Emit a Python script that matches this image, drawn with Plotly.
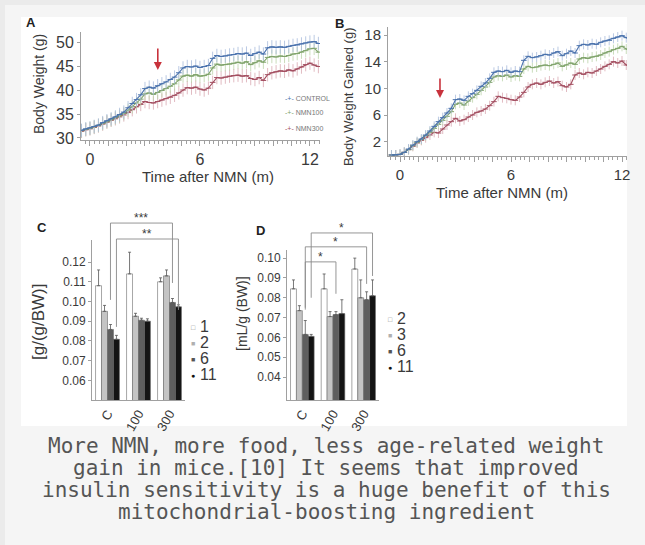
import plotly.graph_objects as go

W, H = 645, 545

# ---------------- data ----------------
weeks = list(range(-2, 55))
months = [w * 12 / 52 for w in weeks]

bw_control = [31.6, 31.9, 32.1, 32.4, 32.7, 33.2, 33.6, 34.0, 34.4, 34.9, 35.4, 36.3, 37.2, 38.0, 39.0,
              40.3, 40.6, 40.4, 40.9, 41.3, 41.7, 42.2, 42.7, 43.6, 44.6, 44.9, 44.8, 45.0, 44.7, 44.9,
              45.1, 46.6, 47.2, 47.0, 47.1, 47.3, 47.4, 47.6, 47.5, 47.7, 47.2, 47.6, 47.9, 47.5, 48.8,
              49.0, 48.9, 49.0, 48.9, 49.1, 49.3, 49.4, 49.6, 49.8, 50.0, 50.1, 49.7]
bw_nmn100 = [31.5, 31.8, 32.0, 32.3, 32.6, 33.0, 33.4, 33.8, 34.2, 34.6, 35.1, 35.8, 36.5, 37.3, 38.1,
             39.2, 39.4, 39.1, 39.5, 39.9, 40.3, 40.8, 41.3, 42.1, 42.9, 43.1, 42.9, 43.2, 42.9, 43.0,
             43.3, 44.6, 45.4, 45.2, 45.3, 45.4, 45.6, 45.8, 45.6, 45.9, 45.3, 45.7, 46.1, 45.8, 46.8,
             47.0, 46.9, 47.1, 47.0, 47.2, 47.5, 47.6, 47.9, 48.2, 48.6, 48.7, 47.9]
bw_nmn300 = [31.4, 31.7, 31.9, 32.2, 32.5, 32.9, 33.3, 33.7, 34.0, 34.4, 34.8, 35.3, 35.9, 36.5, 37.0,
             37.6, 37.4, 37.3, 37.6, 37.9, 38.2, 38.5, 38.9, 39.4, 40.0, 40.5, 40.4, 40.6, 40.2, 40.0,
             40.4, 41.6, 42.6, 42.5, 42.7, 42.9, 43.0, 43.1, 42.9, 43.0, 42.4, 42.2, 42.6, 42.0, 43.2,
             43.6, 43.8, 44.0, 43.9, 44.2, 44.0, 44.4, 44.8, 45.3, 45.6, 45.2, 44.9]

gain_control = [0.0, 0.0, 0.1, 0.4, 0.9, 1.5, 2.0, 2.4, 3.0, 3.6, 4.3, 5.0, 5.6, 6.3, 7.0,
                8.3, 8.4, 8.2, 8.8, 9.2, 9.7, 10.3, 10.8, 11.5, 12.4, 12.6, 12.5, 12.7, 12.4, 12.6,
                12.5, 14.2, 14.8, 14.6, 14.7, 14.9, 15.1, 15.0, 15.3, 15.5, 14.9, 15.2, 15.6, 15.3, 16.4,
                16.6, 16.5, 16.7, 16.6, 16.9, 17.1, 17.2, 17.5, 17.7, 17.9, 17.6, 17.2]
gain_nmn100 = [0.0, 0.0, 0.1, 0.4, 0.8, 1.4, 1.9, 2.3, 2.9, 3.4, 4.0, 4.6, 5.2, 5.8, 6.5,
               7.6, 7.8, 7.5, 8.1, 8.6, 9.1, 9.7, 10.2, 10.9, 11.7, 11.9, 11.8, 12.0, 11.7, 11.9,
               11.8, 12.9, 13.3, 13.1, 13.2, 13.4, 13.5, 13.4, 13.6, 13.8, 13.3, 13.5, 13.8, 13.6, 14.4,
               14.6, 14.5, 14.7, 14.8, 15.0, 15.3, 15.5, 15.8, 16.0, 16.3, 15.9, 15.5]
gain_nmn300 = [0.0, 0.0, 0.1, 0.4, 0.8, 1.3, 1.8, 2.2, 2.6, 3.0, 3.4, 3.3, 3.9, 4.5, 5.0,
               5.5, 5.1, 5.3, 5.7, 6.0, 6.4, 6.6, 6.9, 7.4, 8.0, 8.8, 8.6, 8.5, 8.3, 8.2,
               8.7, 9.4, 10.2, 10.6, 10.8, 10.6, 10.9, 11.1, 10.8, 11.0, 10.4, 10.2, 10.6, 12.0, 12.3,
               12.1, 12.4, 12.3, 12.6, 12.9, 13.3, 13.6, 14.0, 13.8, 14.1, 13.5, 13.2]

series_names = ["CONTROL", "NMN100", "NMN300"]

groups = ["C", "100", "300"]

# panel C per age group (months)
c_labels = ["1", "2", "6", "11"]
c_vals = [[0.108, 0.114, 0.110], [0.095, 0.0925, 0.113], [0.0858, 0.0905, 0.0995], [0.0808, 0.090, 0.0973]]
c_errs = [[0.008, 0.011, 0.002], [0.003, 0.0015, 0.003], [0.0025, 0.001, 0.002], [0.002, 0.0012, 0.001]]

# panel D per age group (months)
d_labels = ["2", "3", "6", "11"]
d_vals = [[0.0845, 0.0845, 0.0945], [0.0735, 0.0705, 0.080], [0.0615, 0.0715, 0.079], [0.0605, 0.072, 0.081]]
d_errs = [[0.0045, 0.0075, 0.0055], [0.0025, 0.0025, 0.009], [0.007, 0.0015, 0.004], [0.001, 0.007, 0.008]]

# significance brackets: (label, series index, group a, group b, line level, left foot, right foot)
c_brackets = [("***", 2, 0, 2, 0.1398, 0.1008, 0.1094), ("**", 3, 0, 2, 0.1317, 0.0871, 0.0957)]
d_brackets = [("*", 3, 0, 2, 0.1127, 0.080, 0.091), ("*", 2, 0, 2, 0.1057, 0.075, 0.087),
              ("*", 2, 0, 1, 0.0981, 0.074, 0.082)]

caption = ["More NMN, more food, less age-related weight",
           "gain in mice.[10] It seems that improved",
           "insulin sensitivity is a huge benefit of this",
           "mitochondrial-boosting ingredient"]

# ---------------- styling ----------------
line_cols = ["#4a72ad", "#7fa36a", "#a34e60"]
err_cols = ["#a8bbdc", "#bcd4ab", "#d9a9b3"]
bar_cols = ["#ffffff", "#c4c4c4", "#5e5e5e", "#141414"]
axis_col = "#a0a0a0"
txt_col = "#3a3a3a"
SANS = "Liberation Sans, Arial"

# pixel layout (domain in px)
A_x, A_y, A_xr, A_yr = (81, 320), (32, 140), (-0.49, 12.55), (29.58, 52.1)
B_x, B_y, B_xr, B_yr = (388, 627), (27, 156), (-0.65, 12.27), (-0.15, 19.2)
C_x, C_y, C_xr, C_yr = (92, 185), (240, 400), (-0.5, 2.5), (0.05, 0.1312)
D_x, D_y, D_xr, D_yr = (287, 379), (250, 400), (-0.5, 2.5), (0.0284, 0.1041)


def dom_x(p):
    return [p[0] / W, p[1] / W]


def dom_y(p):
    return [1 - p[1] / H, 1 - p[0] / H]


def lin(v, dom, rng):
    return dom[0] + (v - rng[0]) / (rng[1] - rng[0]) * (dom[1] - dom[0])


def txt(x, y, text, size, family=SANS, color=txt_col, angle=0, xanchor="center", yanchor="middle"):
    return dict(xref="paper", yref="paper", x=x / W, y=1 - y / H, text=text, showarrow=False,
                xanchor=xanchor, yanchor=yanchor, textangle=angle,
                font=dict(family=family, size=size, color=color))


fig = go.Figure()

# ---- panels A and B ----
for vals_a, vals_b, name, lc, ec in zip(
        [bw_nmn300, bw_nmn100, bw_control], [gain_nmn300, gain_nmn100, gain_control],
        series_names[::-1], line_cols[::-1], err_cols[::-1]):
    for vals, xa, ya, ev in ((vals_a, "x", "y", 1.4), (vals_b, "x2", "y2", 0.75)):
        fig.add_trace(go.Scatter(
            x=months, y=vals, xaxis=xa, yaxis=ya, name=name, mode="lines+markers",
            line=dict(color=lc, width=1.1),
            marker=dict(symbol="line-ew", size=4, line=dict(color=lc, width=1)),
            error_y=dict(type="constant", value=ev, color=ec, thickness=0.8, width=0),
            showlegend=False, cliponaxis=True, hoverinfo="skip"))

# ---- panels C and D ----
for vals_set, errs_set, xa, ya in ((c_vals, c_errs, "x3", "y3"), (d_vals, d_errs, "x4", "y4")):
    for k in range(4):
        fig.add_trace(go.Bar(
            x=groups, y=vals_set[k], xaxis=xa, yaxis=ya, showlegend=False, hoverinfo="skip",
            marker=dict(color=bar_cols[k], line=dict(color="#6a6a6a", width=0.6)),
            error_y=dict(type="data", array=errs_set[k], arrayminus=[0, 0, 0], symmetric=False,
                         color="#555555", thickness=0.8, width=1.5)))

bargap = 0.23
gw = 1 - bargap


def bar_center(g, k):
    return g - gw / 2 + (k + 0.5) * gw / 4


shapes = [
    dict(type="rect", xref="paper", yref="paper", x0=5 / W, x1=1, y0=0, y1=1 - 5 / H,
         fillcolor="#f5f5f5", line=dict(width=0), layer="below"),
    dict(type="rect", xref="paper", yref="paper", x0=21 / W, x1=627 / W,
         y0=1 - 426 / H, y1=1 - 17 / H, fillcolor="white", line=dict(width=0), layer="below"),
]
annotations = []

for brackets, px, py, xr, yr in ((c_brackets, C_x, C_y, C_xr, C_yr), (d_brackets, D_x, D_y, D_xr, D_yr)):
    dx = dom_x(px)
    dy = dom_y(py)
    for lab, k, ga, gb, lvl, lf, rf in brackets:
        xa = lin(bar_center(ga, k), dx, xr)
        xb = lin(bar_center(gb, k), dx, xr)
        yl = lin(lvl, dy, yr)
        ylf = lin(lf, dy, yr)
        yrf = lin(rf, dy, yr)
        path = f"M {xa} {ylf} L {xa} {yl} L {xb} {yl} L {xb} {yrf}"
        shapes.append(dict(type="path", xref="paper", yref="paper", path=path,
                           line=dict(color="#8a8a8a", width=0.9)))
        annotations.append(dict(xref="paper", yref="paper", x=(xa + xb) / 2, y=yl, text=lab,
                                showarrow=False, yanchor="bottom", xanchor="center", yshift=-4,
                                font=dict(family=SANS, size=12, color=txt_col)))

# panel letters
for lab, x, y in (("A", 31, 22), ("B", 339, 23), ("C", 42, 227), ("D", 260, 230)):
    annotations.append(txt(x, y, f"<b>{lab}</b>", 13, color="#222"))

# axis titles
annotations += [
    txt(39, 84, "Body Weight (g)", 14, angle=-90),
    txt(208, 177, "Time after NMN (m)", 15),
    txt(349, 97, "Body Weight Gained (g)", 13, angle=-90),
    txt(502, 192, "Time after NMN (m)", 15),
    txt(38, 322, "[g/(g/BW)]", 17, angle=-90),
    txt(242, 314, "[mL/g (BW)]", 14, angle=-90),
]

# legend panel A
for i, (nm, lc) in enumerate(zip(series_names, line_cols)):
    annotations.append(txt(283, 98 + 15 * i, f'<span style="color:{lc}">-+-</span> {nm}', 7,
                           color="#777", xanchor="left"))

# legends C and D
sq_sym = ["□", "■", "■", "●"]
sq_col = ["#888", "#b0b0b0", "#555", "#111"]
for labels, x0, y0 in ((c_labels, 190, 326), (d_labels, 387, 318)):
    for i, lab in enumerate(labels):
        yy = y0 + 16 * i
        annotations.append(txt(x0 + 3, yy + 1, sq_sym[i], 7, color=sq_col[i]))
        annotations.append(txt(x0 + 8, yy, lab, 16, xanchor="left"))

# arrows
annotations += [
    dict(x=3.7, y=44.2, xref="x", yref="y", ax=0, ay=-23, showarrow=True, arrowhead=2, arrowsize=1,
         arrowwidth=1.6, arrowcolor="#c8323c", text=""),
    dict(x=2.16, y=8.55, xref="x2", yref="y2", ax=0, ay=-21, showarrow=True, arrowhead=2, arrowsize=1,
         arrowwidth=1.6, arrowcolor="#c8323c", text=""),
]

# caption
for i, line in enumerate(caption):
    annotations.append(txt(326, 446 + 22 * i, line, 21, family="DejaVu Sans Mono", color="#555"))

base_axis = dict(showgrid=False, zeroline=False, showline=True, linecolor=axis_col, linewidth=1,
                 ticks="outside", tickcolor=axis_col, ticklen=3, tickwidth=1, automargin=False)

time_ticks = list(range(13))
time_text = ["0" if t == 0 else "6" if t == 6 else "12" if t == 12 else "" for t in time_ticks]

fig.update_layout(
    width=W, height=H, margin=dict(l=0, r=0, t=0, b=0, pad=0),
    paper_bgcolor="#ebebeb", plot_bgcolor="rgba(0,0,0,0)",
    barmode="group", bargap=bargap, bargroupgap=0, hovermode=False,
    shapes=shapes, annotations=annotations,
    xaxis=dict(base_axis, domain=dom_x(A_x), range=list(A_xr), anchor="y", tickmode="array",
               tickvals=time_ticks, ticktext=time_text, ticklen=5,
               minor=dict(tick0=0, dtick=0.25, ticks="outside", ticklen=3, tickcolor=axis_col),
               tickfont=dict(family=SANS, size=16, color=txt_col)),
    yaxis=dict(base_axis, domain=dom_y(A_y), range=list(A_yr), anchor="x", tickvals=[30, 35, 40, 45, 50],
               tickfont=dict(family=SANS, size=16, color=txt_col)),
    xaxis2=dict(base_axis, domain=dom_x(B_x), range=list(B_xr), anchor="y2", tickmode="array",
                tickvals=time_ticks, ticktext=time_text, ticklen=5,
                minor=dict(tick0=0, dtick=0.25, ticks="outside", ticklen=3, tickcolor=axis_col),
                tickfont=dict(family=SANS, size=15, color=txt_col)),
    yaxis2=dict(base_axis, domain=dom_y(B_y), range=list(B_yr), anchor="x2", tickvals=[2, 6, 10, 14, 18],
                tickfont=dict(family=SANS, size=15, color=txt_col)),
    xaxis3=dict(base_axis, domain=dom_x(C_x), range=list(C_xr), anchor="y3", type="category",
                categoryorder="array", categoryarray=groups, ticks="", tickangle=-60,
                tickfont=dict(family=SANS, size=13, color=txt_col)),
    yaxis3=dict(base_axis, domain=dom_y(C_y), range=list(C_yr), anchor="x3",
                tickvals=[0.06, 0.07, 0.08, 0.09, 0.10, 0.11, 0.12], tickformat=".2f",
                tickfont=dict(family=SANS, size=12, color=txt_col)),
    xaxis4=dict(base_axis, domain=dom_x(D_x), range=list(D_xr), anchor="y4", type="category",
                categoryorder="array", categoryarray=groups, ticks="", tickangle=-60,
                tickfont=dict(family=SANS, size=13, color=txt_col)),
    yaxis4=dict(base_axis, domain=dom_y(D_y), range=list(D_yr), anchor="x4",
                tickvals=[0.04, 0.05, 0.06, 0.07, 0.08, 0.09, 0.10], tickformat=".2f",
                tickfont=dict(family=SANS, size=12, color=txt_col)),
)

fig.write_html("out.html", config={"displayModeBar": False, "staticPlot": True},
               post_script="document.body.style.margin='0';")
